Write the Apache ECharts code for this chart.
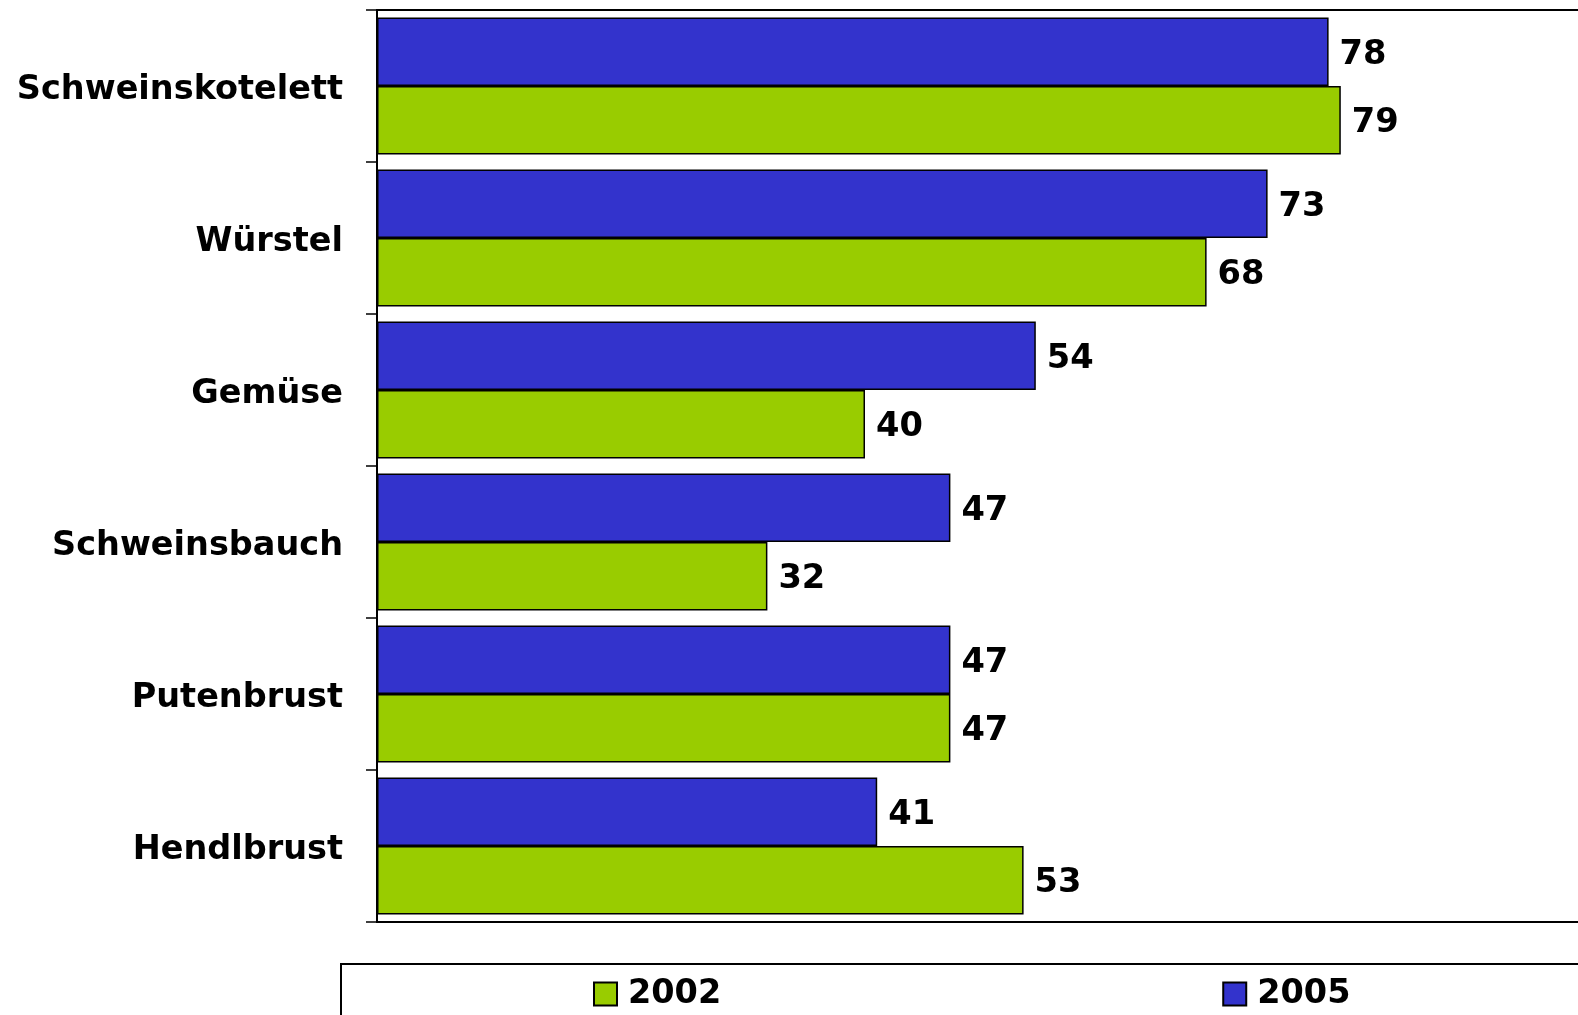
<!DOCTYPE html>
<html>
<head>
<meta charset="utf-8">
<script src="https://cdn.jsdelivr.net/npm/echarts@6/dist/echarts.min.js"></script>
<style>html,body{margin:0;padding:0;background:#fff;overflow:hidden;width:1578px;height:1015px}#c{width:1578px;height:1015px;overflow:hidden}</style>
</head>
<body>
<div id="c"></div>
<script>
const categories = ['Schweinskotelett', 'Würstel', 'Gemüse', 'Schweinsbauch', 'Putenbrust', 'Hendlbrust'];
const values2005 = [78, 73, 54, 47, 47, 41];
const values2002 = [79, 68, 40, 32, 47, 53];
const seriesNames = ['2002', '2005'];

const font = 'DejaVu Sans';
const chart = echarts.init(document.getElementById('c'));
const labelStyle = { show: true, position: 'right', distance: 11, offset: [0, 3], color: '#000', fontFamily: font, fontWeight: 'bold', fontSize: 33.7 };
chart.setOption({
  animation: false,
  backgroundColor: '#fff',
  grid: { left: 377, top: 10, height: 912, width: 1220, outerBoundsMode: 'none', containLabel: false, show: true, borderColor: '#000', borderWidth: 2, backgroundColor: 'transparent' },
  xAxis: { type: 'value', min: 0, max: 100, show: false },
  yAxis: {
    type: 'category', data: categories, inverse: true,
    axisLine: { show: true, lineStyle: { color: '#000', width: 2 } },
    axisTick: { show: true, length: 11, lineStyle: { color: '#000', width: 1.5 } },
    axisLabel: { margin: 34, verticalAlign: 'top', lineHeight: 9, color: '#000', fontFamily: font, fontWeight: 'bold', fontSize: 33.5 }
  },
  legend: {
    data: seriesNames, left: 593, top: 977, itemWidth: 23, itemHeight: 23, itemGap: 501, icon: 'rect', padding: 0,
    textStyle: { color: '#000', fontFamily: font, fontWeight: 'bold', fontSize: 33.5, padding: [0, 0, 0, 6] }
  },
  graphic: [{ type: 'rect', shape: { x: 341, y: 964, width: 1400, height: 200 }, style: { fill: 'none', stroke: '#000', lineWidth: 2 }, z: 100 }],
  series: [
    { name: '2005', type: 'bar', data: values2005, barWidth: 68.5, barGap: '0%', itemStyle: { color: '#3333CC', borderColor: '#000', borderWidth: 1.5 }, label: labelStyle },
    { name: '2002', type: 'bar', data: values2002, barWidth: 68.5, barGap: '0%', itemStyle: { color: '#99CC00', borderColor: '#000', borderWidth: 1.5 }, label: labelStyle }
  ]
});
</script>
</body>
</html>
